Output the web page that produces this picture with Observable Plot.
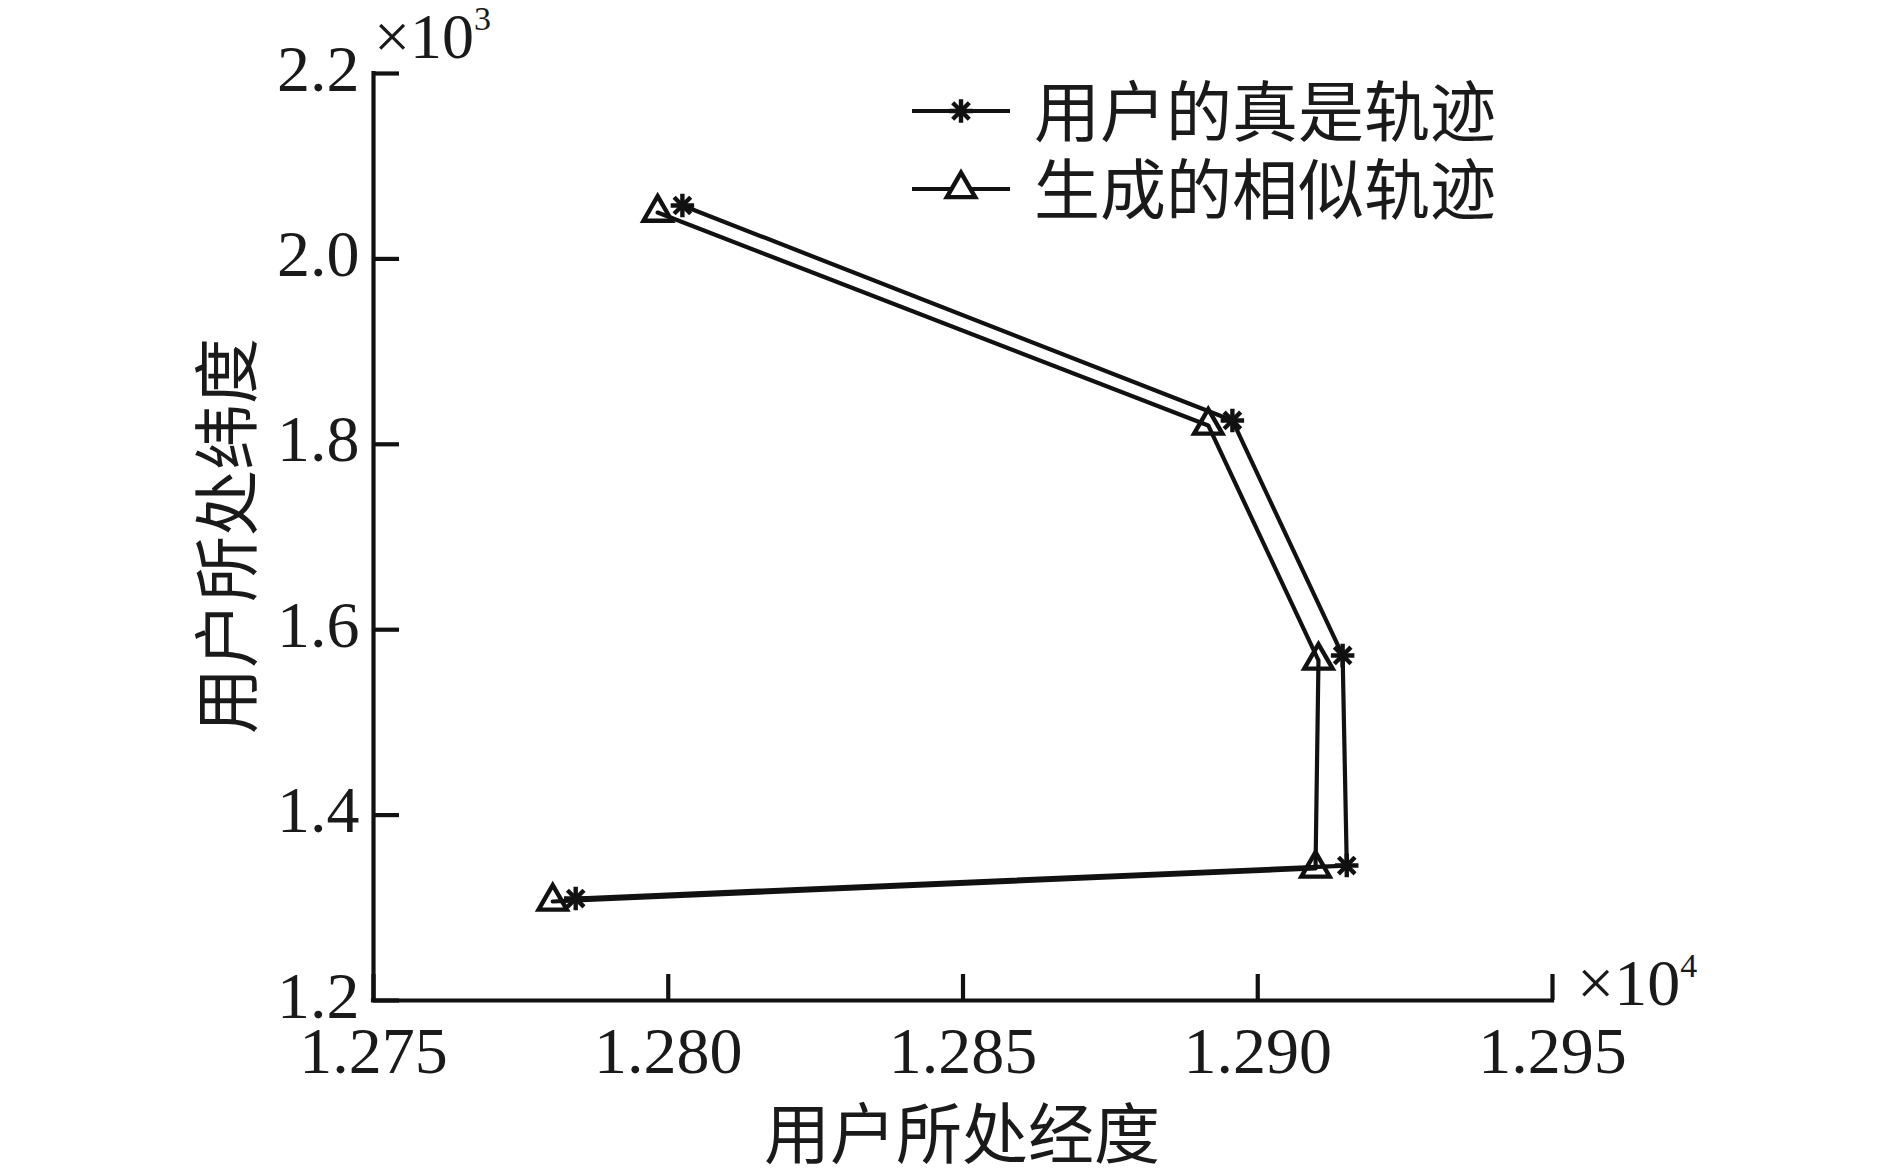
<!DOCTYPE html>
<html>
<head>
<meta charset="utf-8">
<script src="https://cdn.jsdelivr.net/npm/d3@7"></script>
<script src="https://cdn.jsdelivr.net/npm/@observablehq/plot@0.6"></script>
<style>
  html, body { margin: 0; padding: 0; background: #fff; }
  #wrap { position: relative; width: 1889px; height: 1172px; }
  #overlay { position: absolute; left: 0; top: 0; pointer-events: none; }
  .cjk { font-family: "Noto Sans CJK SC", sans-serif; font-size: 66px; fill: #1a1a1a; }
  .num { font-family: "Liberation Serif", serif; fill: #1a1a1a; }
</style>
</head>
<body>
<div id="wrap"></div>
<script>
// ---- data (actual values; axes shown ×10^4 and ×10^3) ----
const trueLon = [12802.4, 12895.7, 12914.4, 12915.1, 12784.3];
const trueLat = [2057.6, 1825.7, 1572.2, 1345.6, 1310.0];
const genLon  = [12798.2, 12891.6, 12910.3, 12909.8, 12780.4];
const genLat  = [2050.0, 1820.3, 1566.8, 1342.4, 1306.8];
const xTicks = [12750, 12800, 12850, 12900, 12950];
const yTicks = [1200, 1400, 1600, 1800, 2000, 2200];
const seriesNames = ["用户的真是轨迹", "生成的相似轨迹"];
const xTitle = "用户所处经度";
const yTitle = "用户所处纬度";

const trueData = trueLon.map((x, i) => ({x, y: trueLat[i]}));
const genData = genLon.map((x, i) => ({x, y: genLat[i]}));

const W = 1889, H = 1172;
const mL = 373, mR = W - 1552, mT = 73, mB = H - 1000;
const frameW = W - mL - mR, frameH = H - mT - mB;
const tickLen = 26;
const lw = 4.2;
const starR = 7.6, starW = 4.4;
const triR = 10.5, triW = 4.4;

const chart = Plot.plot({
  width: W, height: H,
  marginLeft: mL, marginRight: mR, marginTop: mT, marginBottom: mB,
  style: {fontFamily: "'Liberation Serif', serif", fontSize: "66px", color: "#1a1a1a", background: "transparent"},
  x: {domain: [12750, 12950]},
  y: {domain: [1200, 2200]},
  marks: [
    Plot.axisX({ticks: xTicks, tickSize: 0, tickPadding: 26, tickFormat: d => (d / 1e4).toFixed(3), label: null, fontSize: 66}),
    Plot.axisY({ticks: yTicks, tickSize: 0, tickPadding: 14, dy: -4, tickFormat: d => (d / 1e3).toFixed(1), label: null, fontSize: 66}),
    Plot.tickX(xTicks, {x: d => d, insetTop: frameH - tickLen, stroke: "#111", strokeWidth: lw}),
    Plot.tickY(yTicks, {y: d => d, insetRight: frameW - tickLen, stroke: "#111", strokeWidth: lw}),
    Plot.ruleX([12750], {stroke: "#111", strokeWidth: lw, strokeLinecap: "square"}),
    Plot.ruleY([1200], {stroke: "#111", strokeWidth: lw, strokeLinecap: "square"}),
    Plot.line(trueData, {x: "x", y: "y", stroke: "#111", strokeWidth: lw}),
    Plot.line(genData, {x: "x", y: "y", stroke: "#111", strokeWidth: lw}),
    Plot.dot(trueData, {x: "x", y: "y", symbol: "plus", r: starR, stroke: "#111", strokeWidth: starW}),
    Plot.dot(trueData, {x: "x", y: "y", symbol: "times", r: starR, stroke: "#111", strokeWidth: starW}),
    Plot.dot(genData, {x: "x", y: "y", symbol: "triangle", r: triR, stroke: "#111", fill: "none", strokeWidth: triW})
  ]
});

const wrap = document.getElementById("wrap");
wrap.appendChild(chart);

// ---- overlay: legend, axis titles, exponent labels ----
const ov = d3.select(wrap).append("svg")
  .attr("id", "overlay").attr("width", W).attr("height", H);

// legend
const legRows = [{y: 111, name: seriesNames[0], kind: "star"}, {y: 189, name: seriesNames[1], kind: "tri"}];
for (const r of legRows) {
  ov.append("line").attr("x1", 912).attr("x2", 1010).attr("y1", r.y).attr("y2", r.y)
    .attr("stroke", "#111").attr("stroke-width", lw);
  const g = ov.append("g").attr("transform", `translate(961,${r.y})`);
  if (r.kind === "star") {
    const sz = Math.PI * starR * starR;
    g.append("path").attr("d", d3.symbol(d3.symbolPlus, sz)()).attr("stroke", "#111").attr("stroke-width", starW).attr("fill", "none");
    g.append("path").attr("d", d3.symbol(d3.symbolTimes, sz)()).attr("stroke", "#111").attr("stroke-width", starW).attr("fill", "none");
  } else {
    g.append("path").attr("d", d3.symbol(d3.symbolTriangle, Math.PI * triR * triR)()).attr("stroke", "#111").attr("stroke-width", triW).attr("fill", "white");
  }
  ov.append("text").attr("class", "cjk").attr("x", 1034).attr("y", r.y + 25).text(r.name);
}

// axis titles
ov.append("text").attr("class", "cjk").attr("x", 962).attr("y", 1158).attr("text-anchor", "middle").text(xTitle);
ov.append("text").attr("class", "cjk").attr("text-anchor", "middle")
  .attr("transform", "translate(251,536) rotate(-90)").text(yTitle);

// exponent labels
function expLabel(x, y, exp, fs) {
  const t = ov.append("text").attr("class", "num").attr("x", x).attr("y", y).attr("font-size", fs);
  t.append("tspan").text("×10");
  t.append("tspan").attr("font-size", 34).attr("dy", -28).text(exp);
}
expLabel(374, 58, "3", 64);
expLabel(1577, 1005, "4", 66);
</script>
</body>
</html>
